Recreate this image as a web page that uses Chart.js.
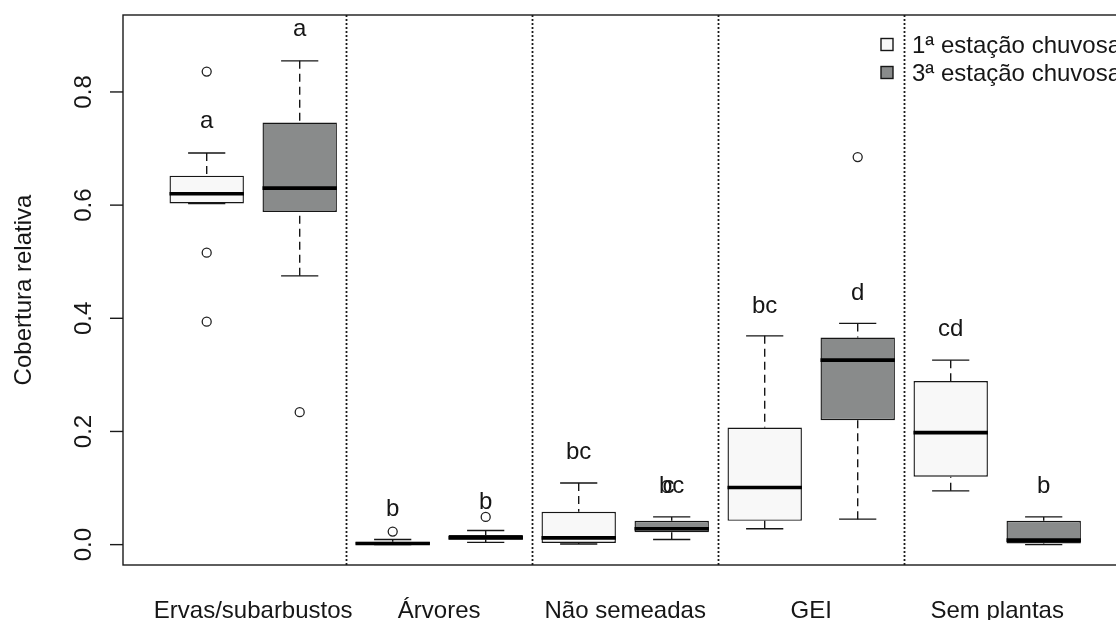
<!DOCTYPE html>
<html>
<head>
<meta charset="utf-8">
<script src="https://cdn.jsdelivr.net/npm/chart.js@4.4.1/dist/chart.umd.min.js"></script>
<style>
  html, body { margin: 0; padding: 0; background: #ffffff; overflow: hidden; width: 1116px; height: 620px; }
  canvas { display: block; }
</style>
</head>
<body>
<canvas id="chart" width="1140" height="620"></canvas>
<script>
// Vegetation groups along the x axis
const groups = ['Ervas/subarbustos', 'Árvores', 'Não semeadas', 'GEI', 'Sem plantas'];
const seasons = ['1ª estação chuvosa', '3ª estação chuvosa'];

// 1st rainy season: whisker ends, quartiles and medians per group
const s1Low    = [0.603, 0.000, 0.001, 0.028, 0.095];
const s1Q1     = [0.603, 0.000, 0.003, 0.042, 0.120];
const s1Median = [0.620, 0.002, 0.012, 0.101, 0.198];
const s1Q3     = [0.652, 0.005, 0.058, 0.207, 0.289];
const s1High   = [0.692, 0.009, 0.109, 0.369, 0.326];
const s1Outliers = [[0.836, 0.516, 0.394], [0.023], [], [], []];

// 3rd rainy season
const s2Low    = [0.475, 0.004, 0.009, 0.045, 0.000];
const s2Q1     = [0.588, 0.009, 0.022, 0.220, 0.002];
const s2Median = [0.630, 0.012, 0.028, 0.326, 0.008];
const s2Q3     = [0.746, 0.017, 0.042, 0.366, 0.042];
const s2High   = [0.855, 0.025, 0.049, 0.391, 0.049];
const s2Outliers = [[0.234], [0.049], [], [0.685], []];

// Significance letters and the height of their baseline
const s1Letters = ['a', 'b', 'bc', 'bc', 'cd'];
const s1LetterY = [0.737, 0.051, 0.151, 0.410, 0.368];
const s2Letters = ['a', 'b', 'bc', 'd', 'b'];
const s2LetterY = [0.899, 0.063, 0.092, 0.432, 0.091];
// a second letter printed over the "bc" of Não semeadas, 3rd season
const extraLetters = [{ group: 2, season: 1, text: 'c', shift: -0.035 }];

// Y axis ticks
const yTicks = [0.0, 0.2, 0.4, 0.6, 0.8];
const yTickLabels = ['0.0', '0.2', '0.4', '0.6', '0.8'];
const yTitle = 'Cobertura relativa';

const series = [
  { low: s1Low, q1: s1Q1, med: s1Median, q3: s1Q3, high: s1High, out: s1Outliers, letters: s1Letters, letterY: s1LetterY, fill: '#f8f8f8' },
  { low: s2Low, q1: s2Q1, med: s2Median, q3: s2Q3, high: s2High, out: s2Outliers, letters: s2Letters, letterY: s2LetterY, fill: '#898b8b' }
];

const FONT = '"Liberation Sans", Arial, sans-serif';
const INK = '#161616';
const posOf = (g, s) => 2 * g + 1 + s;

const boxDatasets = series.map((sr, s) => ({
  type: 'bar',
  label: seasons[s],
  data: groups.map((g, i) => ({ x: posOf(i, s), y: [sr.q1[i], sr.q3[i]] })),
  backgroundColor: sr.fill,
  borderColor: INK,
  borderWidth: 1.4,
  borderSkipped: false,
  grouped: false,
  categoryPercentage: 1,
  barPercentage: 0.8,
  order: 2
}));

const outlierDataset = {
  type: 'scatter',
  label: 'outliers',
  data: series.flatMap((sr, s) => sr.out.flatMap((vals, i) => vals.map(v => ({ x: posOf(i, s), y: v })))),
  pointRadius: 4.5,
  pointHoverRadius: 4.5,
  pointBackgroundColor: 'rgba(255,255,255,0)',
  pointBorderColor: '#222222',
  pointBorderWidth: 1.3,
  showLine: false,
  order: 1
};

const boxParts = {
  id: 'boxParts',
  beforeDatasetsDraw(chart) {
    const { ctx, chartArea: a, scales: { x } } = chart;
    ctx.save();
    ctx.strokeStyle = '#1a1a1a';
    ctx.lineWidth = 1.8;
    ctx.setLineDash([2, 2]);
    for (let g = 1; g < groups.length; g++) {
      const px = Math.round(x.getPixelForValue(2 * g + 0.5)) + 0.5;
      ctx.beginPath();
      ctx.moveTo(px, a.top);
      ctx.lineTo(px, a.bottom);
      ctx.stroke();
    }
    ctx.restore();
  },
  afterDatasetsDraw(chart) {
    const { ctx, chartArea: a, scales: { x, y } } = chart;
    ctx.save();
    series.forEach((sr, s) => {
      const meta = chart.getDatasetMeta(s);
      meta.data.forEach((bar, i) => {
        const cx = bar.x, w = bar.width;
        const yHi = y.getPixelForValue(sr.high[i]);
        const yLo = y.getPixelForValue(sr.low[i]);
        const yQ3 = y.getPixelForValue(sr.q3[i]);
        const yQ1 = y.getPixelForValue(sr.q1[i]);
        const yMed = y.getPixelForValue(sr.med[i]);
        ctx.strokeStyle = INK;
        ctx.lineWidth = 1.4;
        // dashed whiskers
        ctx.setLineDash([8, 5]);
        ctx.beginPath();
        ctx.moveTo(cx, yHi); ctx.lineTo(cx, yQ3);
        ctx.moveTo(cx, yLo); ctx.lineTo(cx, yQ1);
        ctx.stroke();
        ctx.setLineDash([]);
        // whisker caps
        ctx.beginPath();
        ctx.moveTo(cx - w / 4, yHi); ctx.lineTo(cx + w / 4, yHi);
        ctx.moveTo(cx - w / 4, yLo); ctx.lineTo(cx + w / 4, yLo);
        ctx.stroke();
        // median
        ctx.lineWidth = 3.6;
        ctx.lineCap = 'butt';
        ctx.strokeStyle = '#000000';
        ctx.beginPath();
        ctx.moveTo(cx - w / 2, yMed); ctx.lineTo(cx + w / 2, yMed);
        ctx.stroke();
        // letters
        ctx.fillStyle = INK;
        ctx.font = '24px ' + FONT;
        ctx.textAlign = 'center';
        ctx.textBaseline = 'alphabetic';
        ctx.fillText(sr.letters[i], cx, y.getPixelForValue(sr.letterY[i]));
      });
    });
    extraLetters.forEach(e => {
      const sr = series[e.season];
      const cx = x.getPixelForValue(posOf(e.group, e.season) + e.shift);
      ctx.fillText(e.text, cx, y.getPixelForValue(sr.letterY[e.group]));
    });
    ctx.restore();
  },
  afterDraw(chart) {
    const { ctx, chartArea: a, scales: { x, y } } = chart;
    ctx.save();
    // plot frame
    ctx.strokeStyle = '#1a1a1a';
    ctx.lineWidth = 1.4;
    ctx.strokeRect(a.left, a.top, a.right - a.left, a.bottom - a.top);
    // y ticks and labels
    ctx.fillStyle = INK;
    ctx.font = '24px ' + FONT;
    ctx.textAlign = 'center';
    ctx.textBaseline = 'alphabetic';
    yTicks.forEach((v, k) => {
      const py = y.getPixelForValue(v);
      ctx.beginPath();
      ctx.moveTo(a.left - 13, py); ctx.lineTo(a.left, py);
      ctx.stroke();
      ctx.save();
      ctx.translate(a.left - 32, py);
      ctx.rotate(-Math.PI / 2);
      ctx.fillText(yTickLabels[k], 0, 0);
      ctx.restore();
    });
    // y title
    ctx.save();
    ctx.translate(31, (a.top + a.bottom) / 2);
    ctx.rotate(-Math.PI / 2);
    ctx.fillText(yTitle, 0, 0);
    ctx.restore();
    // group labels
    groups.forEach((g, i) => {
      ctx.fillText(g, x.getPixelForValue(2 * i + 1.5), a.bottom + 53);
    });
    // legend
    const lx = 881, ly = [38.5, 66.5];
    series.forEach((sr, s) => {
      ctx.fillStyle = sr.fill;
      ctx.fillRect(lx, ly[s], 12, 12);
      ctx.strokeStyle = INK;
      ctx.lineWidth = 1.4;
      ctx.strokeRect(lx, ly[s], 12, 12);
      ctx.fillStyle = INK;
      ctx.textAlign = 'left';
      ctx.fillText(seasons[s], 912, ly[s] + 14.5);
    });
    ctx.restore();
  }
};

new Chart(document.getElementById('chart'), {
  type: 'bar',
  data: { datasets: [...boxDatasets, outlierDataset] },
  options: {
    responsive: false,
    animation: false,
    devicePixelRatio: 1,
    layout: { padding: { left: 123, top: 15, right: 12.6, bottom: 55 } },
    scales: {
      x: { type: 'linear', min: 0.1, max: 10.9, offset: false, display: false,
           ticks: { stepSize: 1, includeBounds: false } },
      y: { type: 'linear', min: -0.036, max: 0.936, display: false }
    },
    plugins: { legend: { display: false }, tooltip: { enabled: false } }
  },
  plugins: [boxParts]
});
</script>
</body>
</html>
